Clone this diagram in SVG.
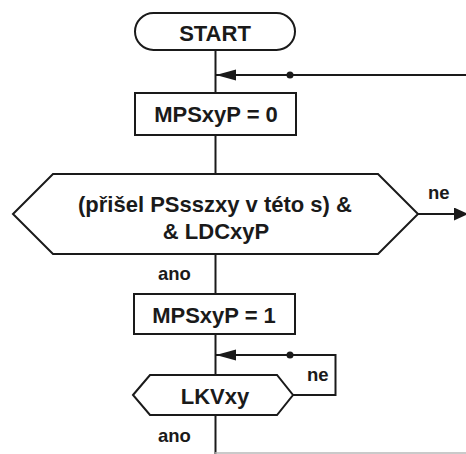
<svg xmlns="http://www.w3.org/2000/svg" width="466" height="454" viewBox="0 0 466 454">
<defs>
<style>
.shape{fill:#fff;stroke:#1a1a1a;stroke-width:2}
.line{fill:none;stroke:#1a1a1a;stroke-width:2}
.t{font-family:"Liberation Sans",Arial,sans-serif;font-weight:bold;font-size:22px;fill:#1a1a1a;text-anchor:middle}
.lbl{font-family:"Liberation Sans",Arial,sans-serif;font-weight:bold;font-size:18.5px;fill:#1a1a1a}
.dot{fill:#1a1a1a}
</style>
<marker id="arr" markerUnits="userSpaceOnUse" markerWidth="20" markerHeight="12" refX="20" refY="6" orient="auto">
<path d="M0,0.5 L20,6 L0,11.5 Z" fill="#1a1a1a"/>
</marker>
<marker id="arr2" markerUnits="userSpaceOnUse" markerWidth="14" markerHeight="13" refX="14" refY="6.5" orient="auto">
<path d="M0,0 L14,6.5 L0,13 Z" fill="#1a1a1a"/>
</marker>
</defs>
<rect width="466" height="454" fill="#fff"/>
<g id="connectors">
<path class="line" d="M215.5,50 V93"/>
<path class="line" d="M215.5,135 V174"/>
<path class="line" d="M215.5,254 V294"/>
<path class="line" d="M215.5,334 V375"/>
<path class="line" d="M215.5,415 V454"/>
<path class="line" d="M466,75 H216" marker-end="url(#arr)"/>
<circle class="dot" cx="290" cy="75" r="3.5"/>
<path class="line" d="M418,214 H468" marker-end="url(#arr2)"/>
<path class="line" d="M293,395 H335.5 V355 H216" marker-end="url(#arr)"/>
<circle class="dot" cx="290" cy="355" r="3.5"/>
<path d="M215,453 H466" fill="none" stroke="#b8b8b8" stroke-width="1.5"/>
<text class="lbl" x="428" y="199">ne</text>
<text class="lbl" x="158" y="280">ano</text>
<text class="lbl" x="307" y="381">ne</text>
<text class="lbl" x="158" y="442">ano</text>
</g>
<g id="start">
<rect class="shape" x="135" y="13" width="160" height="37" rx="18.5"/>
<text class="t" x="215" y="41">START</text>
</g>
<g id="mps0">
<rect class="shape" x="135" y="93" width="161" height="42"/>
<text class="t" x="216" y="122">MPSxyP = 0</text>
</g>
<g id="cond1">
<polygon class="shape" points="13,214 53,174 378,174 418,214 378,254 53,254"/>
<text class="t" x="215" y="212">(přišel PSsszxy v této s) &amp;</text>
<text class="t" x="216" y="239">&amp; LDCxyP</text>
</g>
<g id="mps1">
<rect class="shape" x="134" y="294" width="161" height="40"/>
<text class="t" x="214" y="323">MPSxyP = 1</text>
</g>
<g id="lkv">
<polygon class="shape" points="133,395 150,375 277,375 293,395 277,415 150,415"/>
<text class="t" x="215" y="404">LKVxy</text>
</g>
</svg>
